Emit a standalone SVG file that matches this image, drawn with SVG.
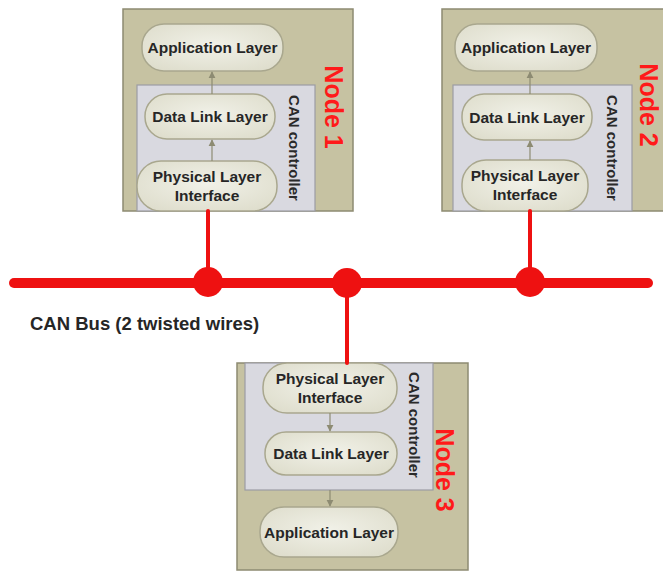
<svg xmlns="http://www.w3.org/2000/svg" width="663" height="573" viewBox="0 0 663 573">
  <style>
    .node { fill: #c6c2a2; stroke: #8d8b72; stroke-width: 1.5; }
    .ctrl { fill: #d9d9e0; stroke: #9c9ca4; stroke-width: 1.2; }
    .pill { fill: url(#pillGrad); stroke: #a9a78e; stroke-width: 1.5; }
    .lbl { font-family: "Liberation Sans", Arial, sans-serif; font-weight: bold; font-size: 15.5px; fill: #262626; text-anchor: middle; }
    .ctl { font-family: "Liberation Sans", Arial, sans-serif; font-weight: bold; font-size: 15px; fill: #2a2a2a; text-anchor: middle; }
    .nname { font-family: "Liberation Sans", Arial, sans-serif; font-weight: bold; font-size: 25px; fill: #ff1a1a; text-anchor: middle; }
    .flow { stroke: #8d8b72; stroke-width: 1.2; fill: none; marker-end: url(#tip); }
    .bus { stroke: #ee1111; stroke-linecap: round; fill: none; }
    .tap { fill: #ee1111; }
  </style>
  <defs>
    <radialGradient id="pillGrad" cx="50%" cy="45%" r="65%">
      <stop offset="0" stop-color="#f1f1e8"/>
      <stop offset="1" stop-color="#deddcc"/>
    </radialGradient>
    <marker id="tip" viewBox="0 0 10 10" refX="9" refY="5" markerWidth="6" markerHeight="6" orient="auto">
      <path d="M0,0 L10,5 L0,10 z" fill="#8d8b72"/>
    </marker>
  </defs>

  <!-- Node 1 -->
  <g id="node1">
    <rect class="node" x="123" y="9" width="230" height="202"/>
    <rect class="ctrl" x="137" y="85" width="178" height="126"/>
    <rect class="pill" x="142" y="24" width="141" height="47" rx="22"/>
    <text class="lbl" x="212.5" y="53">Application Layer</text>
    <rect class="pill" x="145" y="94" width="130" height="45" rx="22"/>
    <text class="lbl" x="210" y="122">Data Link Layer</text>
    <rect class="pill" x="137" y="161" width="140" height="50" rx="24"/>
    <text class="lbl" x="207" y="181.5">Physical Layer</text>
    <text class="lbl" x="207" y="201">Interface</text>
    <path class="flow" d="M212 161 V140"/>
    <path class="flow" d="M212 94 V72"/>
    <text class="ctl" transform="translate(289,148) rotate(90)">CAN controller</text>
    <text class="nname" transform="translate(325,107) rotate(90)">Node 1</text>
  </g>

  <!-- Node 2 -->
  <g id="node2">
    <rect class="node" x="442" y="9" width="225" height="202"/>
    <rect class="ctrl" x="453" y="85" width="179" height="126"/>
    <rect class="pill" x="455" y="24" width="142" height="47" rx="22"/>
    <text class="lbl" x="526" y="53">Application Layer</text>
    <rect class="pill" x="462" y="94" width="130" height="46" rx="22"/>
    <text class="lbl" x="527" y="122.5">Data Link Layer</text>
    <rect class="pill" x="462" y="160" width="126" height="51" rx="24"/>
    <text class="lbl" x="525" y="180.5">Physical Layer</text>
    <text class="lbl" x="525" y="200">Interface</text>
    <path class="flow" d="M530 160 V141"/>
    <path class="flow" d="M530 94 V72"/>
    <text class="ctl" transform="translate(607,148) rotate(90)">CAN controller</text>
    <text class="nname" transform="translate(640,105) rotate(90)">Node 2</text>
  </g>

  <!-- Node 3 -->
  <g id="node3">
    <rect class="node" x="237" y="363" width="231" height="207"/>
    <rect class="ctrl" x="245" y="363" width="188" height="127"/>
    <rect class="pill" x="263" y="363" width="134" height="50" rx="24"/>
    <text class="lbl" x="330" y="383.5">Physical Layer</text>
    <text class="lbl" x="330" y="403">Interface</text>
    <rect class="pill" x="265" y="432" width="132" height="43" rx="21"/>
    <text class="lbl" x="331" y="459">Data Link Layer</text>
    <rect class="pill" x="260" y="507" width="138" height="50" rx="24"/>
    <text class="lbl" x="329" y="537.5">Application Layer</text>
    <path class="flow" d="M330 413 V431"/>
    <path class="flow" d="M330 490 V506"/>
    <text class="ctl" transform="translate(409,425) rotate(90)">CAN controller</text>
    <text class="nname" transform="translate(436,470) rotate(90)">Node 3</text>
  </g>

  <!-- CAN bus wiring -->
  <g id="connectors">
    <path class="bus" stroke-width="10" d="M14 283 H648"/>
    <path class="bus" stroke-width="4" stroke-linecap="butt" d="M208 211 V283"/>
    <path class="bus" stroke-width="4" stroke-linecap="butt" d="M530 211 V283"/>
    <path class="bus" stroke-width="4" stroke-linecap="butt" d="M347 283 V363"/>
    <circle class="tap" cx="208" cy="282" r="15"/>
    <circle class="tap" cx="347" cy="283" r="15"/>
    <circle class="tap" cx="530" cy="282" r="15"/>
  </g>

  <text x="30" y="330" font-family="Liberation Sans, Arial, sans-serif" font-weight="bold" font-size="18.5" fill="#262626">CAN Bus (2 twisted wires)</text>
</svg>
